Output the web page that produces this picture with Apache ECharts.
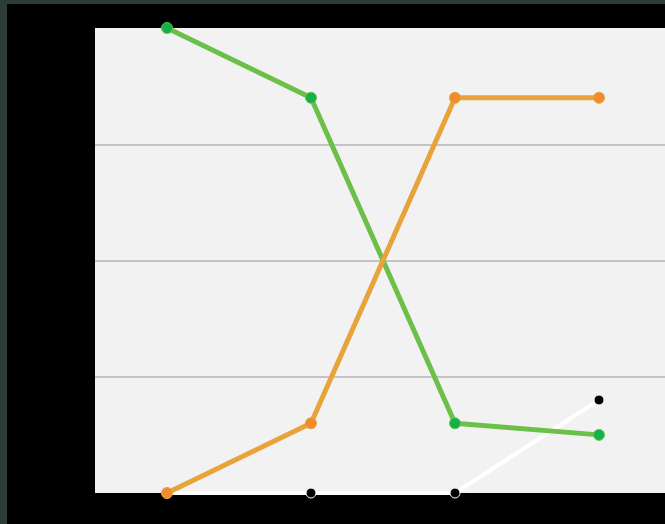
<!DOCTYPE html>
<html>
<head>
<meta charset="utf-8">
<script src="https://cdn.jsdelivr.net/npm/echarts@6/dist/echarts.min.js"></script>
<style>
html,body{margin:0;padding:0;background:#2d3d36;width:665px;height:524px;overflow:hidden;}
#c{position:absolute;left:7px;top:4px;width:665px;height:520px;}
</style>
</head>
<body>
<div id="c"></div>
<script>
const categories = ['A', 'B', 'C', 'D'];
const greenValues = [20, 17, 3, 2.5];
const orangeValues = [0, 3, 17, 17];
const whiteValues = [0, 0, 0, 4];
const yTicks = [0, 5, 10, 15, 20];

const chart = echarts.init(document.getElementById('c'), null, {renderer: 'canvas'});
chart.setOption({
  backgroundColor: '#000000',
  animation: false,
  grid: {
    left: 88, top: 24, width: 576, height: 465,
    show: true, backgroundColor: '#f2f2f2', borderWidth: 0
  },
  xAxis: {
    type: 'category',
    data: categories,
    boundaryGap: true,
    axisLine: {show: false},
    axisTick: {show: false},
    axisLabel: {show: false},
    splitLine: {show: false}
  },
  yAxis: {
    type: 'value',
    min: yTicks[0],
    max: yTicks[yTicks.length - 1],
    interval: yTicks[1] - yTicks[0],
    axisLine: {show: false},
    axisTick: {show: false},
    axisLabel: {show: false},
    splitLine: {
      show: true, showMinLine: false, showMaxLine: false,
      lineStyle: {color: '#c3c3c3', width: 2}
    }
  },
  series: [
    {
      type: 'line', data: whiteValues, symbol: 'circle', symbolSize: 10,
      lineStyle: {color: '#ffffff', width: 4},
      itemStyle: {color: '#000000', borderColor: '#ffffff', borderWidth: 1}
    },
    {
      type: 'line', data: greenValues, symbol: 'circle', symbolSize: 11,
      lineStyle: {color: '#6cc04a', width: 5},
      itemStyle: {color: '#12b24a', borderColor: '#6cc04a', borderWidth: 1}
    },
    {
      type: 'line', data: orangeValues, symbol: 'circle', symbolSize: 11,
      lineStyle: {color: '#e8a33a', width: 5},
      itemStyle: {color: '#f28a2e', borderColor: '#e8a33a', borderWidth: 1}
    }
  ]
});
</script>
</body>
</html>
